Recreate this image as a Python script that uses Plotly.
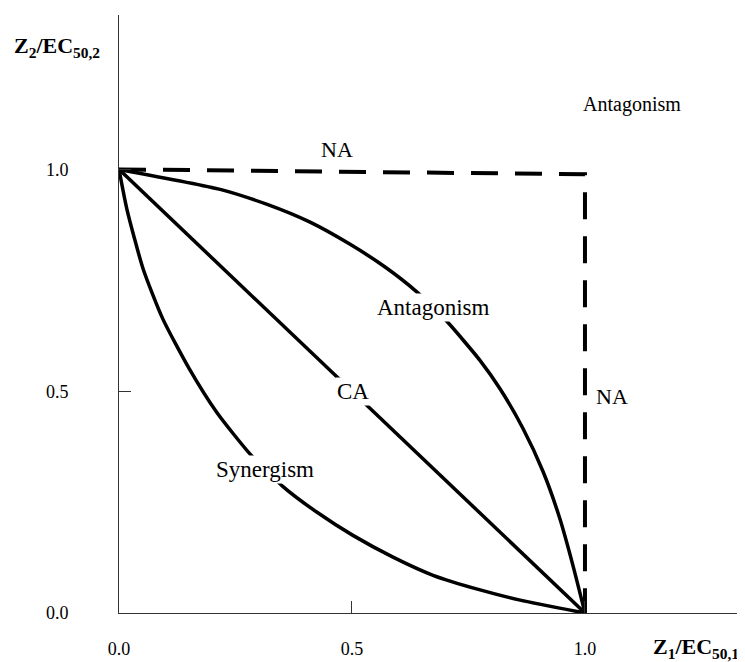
import plotly.graph_objects as go

# ---- data ----
ca_x = [0.0, 1.0]
ca_y = [1.0, 0.0]

antag_x = [0.0, 0.217, 0.318, 0.410, 0.496, 0.571, 0.639, 0.704, 0.775, 0.818, 0.867, 0.910, 0.946, 0.974, 1.0]
antag_y = [1.0, 0.955, 0.921, 0.881, 0.831, 0.780, 0.724, 0.657, 0.569, 0.505, 0.416, 0.319, 0.213, 0.108, 0.0]

syn_x = [0.0, 0.017, 0.052, 0.094, 0.150, 0.210, 0.280, 0.352, 0.425, 0.502, 0.588, 0.674, 0.775, 0.861, 1.0]
syn_y = [1.0, 0.910, 0.775, 0.663, 0.552, 0.452, 0.360, 0.285, 0.227, 0.175, 0.126, 0.085, 0.052, 0.029, 0.0]

na_x = [0.0, 1.0, 1.0]
na_y = [1.0, 0.989, 0.0]

tick_vals = [0.0, 0.5, 1.0]
tick_text = ["0.0", "0.5", "1.0"]

labels = ["NA", "Antagonism", "Antagonism", "CA", "Synergism", "NA"]
label_x = [0.468, 1.101, 0.674, 0.502, 0.313, 1.058]
label_y = [1.045, 1.146, 0.688, 0.499, 0.324, 0.488]
label_bg = [False, False, True, True, True, False]
label_size = [22, 20, 23, 23, 23, 22]

FONT = "Liberation Serif, Times New Roman, serif"

fig = go.Figure()
fig.add_trace(go.Scatter(x=na_x, y=na_y, mode="lines",
                         line=dict(color="black", width=4, dash="27px,17px"),
                         hoverinfo="skip"))
fig.add_trace(go.Scatter(x=ca_x, y=ca_y, mode="lines",
                         line=dict(color="black", width=3.5), hoverinfo="skip"))
fig.add_trace(go.Scatter(x=antag_x, y=antag_y, mode="lines",
                         line=dict(color="black", width=3.5, shape="spline", smoothing=0.6),
                         hoverinfo="skip"))
fig.add_trace(go.Scatter(x=syn_x, y=syn_y, mode="lines",
                         line=dict(color="black", width=3.5, shape="spline", smoothing=0.6),
                         hoverinfo="skip"))

for t, x, y, bg, s in zip(labels, label_x, label_y, label_bg, label_size):
    fig.add_annotation(x=x, y=y, xref="x", yref="y", text=t, showarrow=False,
                       xanchor="center", yanchor="middle",
                       font=dict(family=FONT, size=s, color="black"),
                       bgcolor="white" if bg else "rgba(0,0,0,0)", borderpad=1)

fig.add_annotation(xref="paper", yref="paper", x=-0.0995, y=0.947,
                   xanchor="center", yanchor="middle",
                   text="<b>Z<sub>2</sub>/EC<sub>50,2</sub></b>", showarrow=False,
                   font=dict(family=FONT, size=22, color="black"))
fig.add_annotation(xref="paper", yref="paper", x=0.926, y=-0.058,
                   xanchor="center", yanchor="middle",
                   text="<b>Z<sub>1</sub>/EC<sub>50,1</sub></b>", showarrow=False,
                   font=dict(family=FONT, size=22, color="black"))

axis_common = dict(showgrid=False, zeroline=False, showline=True, linecolor="#333",
                   linewidth=1, ticks="inside", ticklen=12, tickcolor="#333",
                   tickvals=tick_vals, ticktext=tick_text,
                   tickfont=dict(family=FONT, size=18, color="black"))

fig.update_xaxes(range=[0, 1.337], ticklabelstandoff=19, **axis_common)
fig.update_yaxes(range=[0, 1.348], ticklabelstandoff=46, **axis_common)

fig.update_layout(width=737, height=654, showlegend=False,
                  margin=dict(l=111, r=3, t=7, b=47),
                  paper_bgcolor="white", plot_bgcolor="white")

fig.write_html("out.html")
